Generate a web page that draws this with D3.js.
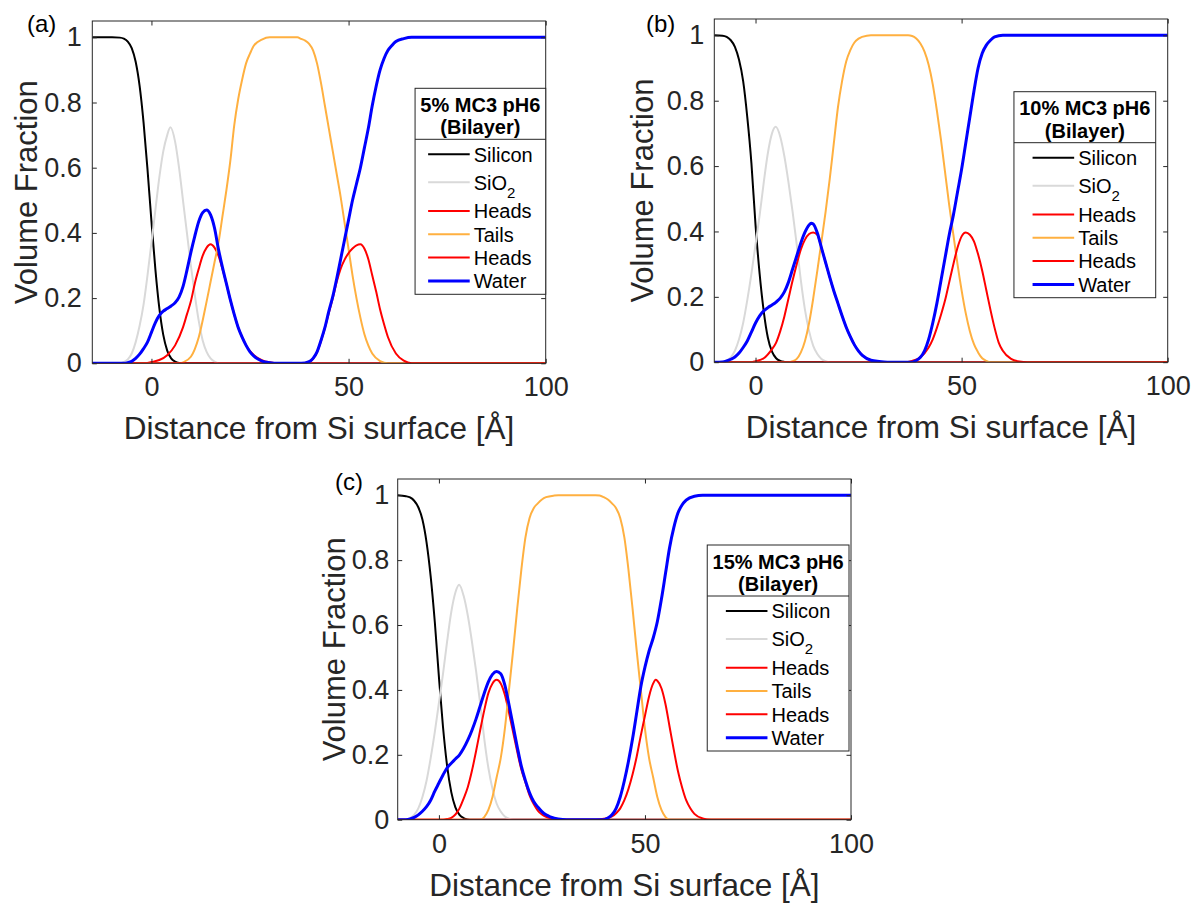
<!DOCTYPE html>
<html><head><meta charset="utf-8">
<script src="https://cdn.jsdelivr.net/npm/d3@7"></script>
<style>
body{margin:0;background:#fff}
svg{display:block}
text{font-family:"Liberation Sans",Arial,Helvetica,sans-serif}
</style>
</head><body>
<svg id="chart" width="1195" height="903"></svg>
<script>
// ---------------- DATA ----------------
const seriesNames = ["Silicon", "SiO2", "Heads", "Tails", "Heads", "Water"];
const xTicks = [0, 50, 100];
const yTicks = [0, 0.2, 0.4, 0.6, 0.8, 1];
const yTickLabels = ["0", "0.2", "0.4", "0.6", "0.8", "1"];
const panelLabels = ["(a)", "(b)", "(c)"];
const legendTitleA = ["5% MC3 pH6", "(Bilayer)"];
const legendTitleB = ["10% MC3 pH6", "(Bilayer)"];
const legendTitleC = ["15% MC3 pH6", "(Bilayer)"];
const xAxisTitle = "Distance from Si surface [Å]";
const yAxisTitle = "Volume Fraction";

// Panel (a) : 5% MC3
const siliconA = [[-15,1],[-10,1],[-8,0.999],[-7,0.996],[-6,0.987],[-5,0.967],[-4,0.925],[-3,0.851],[-2,0.739],[-1,0.595],[0,0.436],[1,0.288],[2,0.169],[3,0.087],[4,0.039],[5,0.015],[6,0.005],[7,0.001],[8,0],[100,0]];
const sio2A = [[-15,0],[-8,0],[-7,0.004],[-6,0.012],[-5,0.03],[-4,0.065],[-3,0.115],[-2,0.18],[-1,0.27],[0,0.37],[1,0.47],[2,0.57],[3,0.65],[4,0.70],[4.8,0.724],[6,0.68],[7,0.60],[8,0.50],[9,0.40],[10,0.30],[11,0.21],[12,0.13],[13,0.07],[14,0.035],[15,0.015],[16,0.005],[17,0],[100,0]];
const headsA = [[-15,0],[-2,0],[0,0.004],[2,0.01],[4,0.025],[6,0.055],[8,0.11],[9,0.15],[10,0.19],[11,0.245],[12,0.29],[13,0.33],[14,0.355],[15,0.365],[16,0.355],[17,0.33],[18,0.29],[19,0.245],[20,0.195],[21,0.15],[22,0.11],[24,0.055],[26,0.025],[28,0.01],[30,0.003],[32,0],[100,0]];
const tailsA = [[-15,0],[7,0],[8,0.003],[10,0.02],[12,0.08],[14,0.19],[15,0.25],[16,0.31],[17,0.37],[18,0.45],[19,0.53],[20,0.62],[21,0.73],[22,0.81],[23,0.87],[24,0.92],[25,0.95],[26,0.975],[28,0.993],[30,1],[37,1],[38,0.995],[39,0.99],[40,0.98],[41,0.96],[42,0.92],[43,0.86],[44,0.79],[45,0.72],[46,0.65],[47,0.58],[48,0.51],[49,0.43],[50,0.35],[51,0.27],[52,0.20],[53,0.14],[54,0.09],[55,0.055],[56,0.03],[58,0.007],[60,0],[100,0]];
const heads2A = [[-15,0],[38,0],[40,0.005],[41,0.014],[42,0.034],[43,0.068],[44,0.108],[45,0.155],[46,0.2],[47,0.25],[48,0.29],[49,0.318],[50,0.338],[51,0.352],[52,0.362],[53,0.365],[54,0.352],[55,0.32],[56,0.27],[57,0.22],[58,0.165],[59,0.12],[60,0.08],[62,0.03],[64,0.008],[66,0],[100,0]];
const waterA = [[-15,0],[-7,0],[-6,0.002],[-5,0.006],[-4,0.015],[-3,0.028],[-2,0.045],[-1,0.065],[0,0.095],[1,0.125],[2,0.147],[3,0.16],[4,0.168],[5,0.176],[6,0.186],[7,0.203],[8,0.235],[9,0.285],[10,0.34],[11,0.39],[12,0.435],[13,0.462],[14,0.47],[15,0.455],[16,0.415],[17,0.35],[18,0.295],[19,0.245],[20,0.195],[21,0.15],[22,0.11],[23,0.08],[24,0.055],[25,0.035],[26,0.022],[27,0.013],[28,0.007],[30,0.002],[32,0],[38,0],[40,0.005],[41,0.015],[42,0.035],[43,0.07],[44,0.11],[45,0.16],[46,0.205],[47,0.26],[48,0.32],[49,0.38],[50,0.44],[51,0.50],[52,0.55],[53,0.60],[54,0.66],[55,0.72],[56,0.79],[57,0.85],[58,0.9],[59,0.935],[60,0.96],[61,0.975],[62,0.987],[64,0.996],[66,1],[100,1]];

// Panel (b) : 10% MC3
const siliconB = [[-10,1],[-8,0.999],[-7,0.995],[-6,0.985],[-5,0.965],[-4,0.925],[-3,0.86],[-2,0.75],[-1,0.61],[0,0.42],[1,0.27],[2,0.155],[3,0.075],[4,0.032],[5,0.012],[6,0.004],[7,0.001],[8,0],[100,0]];
const sio2B = [[-10,0],[-8,0],[-7,0.005],[-6,0.015],[-5,0.035],[-4,0.07],[-3,0.12],[-2,0.19],[-1,0.27],[0,0.36],[1,0.45],[2,0.55],[3,0.64],[4,0.70],[4.9,0.72],[6,0.69],[7,0.63],[8,0.55],[9,0.46],[10,0.36],[11,0.25],[12,0.16],[13,0.095],[14,0.05],[15,0.025],[16,0.01],[17,0.003],[18,0],[100,0]];
const headsB = [[-10,0],[-1,0],[0,0.003],[2,0.012],[4,0.04],[5,0.06],[6,0.095],[7,0.14],[8,0.195],[9,0.25],[10,0.30],[11,0.345],[12,0.375],[13,0.392],[14,0.397],[15,0.39],[16,0.35],[17,0.305],[18,0.26],[19,0.218],[20,0.18],[21,0.142],[22,0.107],[23,0.078],[24,0.053],[25,0.034],[26,0.02],[28,0.006],[30,0.001],[32,0],[100,0]];
const tailsB = [[-10,0],[8,0],[9,0.003],[10,0.01],[11,0.03],[12,0.065],[13,0.12],[14,0.195],[15,0.28],[16,0.37],[17,0.46],[18,0.56],[19,0.67],[20,0.78],[21,0.86],[22,0.92],[23,0.955],[24,0.978],[25,0.99],[27,0.999],[28,1],[37,1],[38,0.998],[39,0.99],[40,0.975],[41,0.95],[42,0.91],[43,0.85],[44,0.77],[45,0.68],[46,0.58],[47,0.48],[48,0.39],[49,0.30],[50,0.22],[51,0.15],[52,0.095],[53,0.055],[54,0.03],[55,0.012],[56,0.004],[57,0],[100,0]];
const heads2B = [[-10,0],[36,0],[38,0.004],[40,0.015],[42,0.045],[43,0.07],[44,0.105],[45,0.145],[46,0.19],[47,0.245],[48,0.30],[49,0.35],[50,0.385],[51,0.397],[52,0.39],[53,0.37],[54,0.33],[55,0.28],[56,0.22],[57,0.16],[58,0.105],[59,0.06],[60,0.035],[62,0.01],[64,0.002],[66,0],[100,0]];
const waterB = [[-10,0],[-8,0.001],[-7,0.004],[-6,0.009],[-5,0.016],[-4,0.028],[-3,0.045],[-2,0.065],[-1,0.092],[0,0.12],[1,0.142],[2,0.157],[3,0.167],[4,0.175],[5,0.184],[6,0.196],[7,0.215],[8,0.245],[9,0.285],[10,0.325],[11,0.365],[12,0.398],[13,0.42],[13.5,0.425],[14,0.423],[15,0.395],[16,0.35],[17,0.305],[18,0.26],[19,0.218],[20,0.18],[21,0.142],[22,0.107],[23,0.078],[24,0.053],[25,0.034],[26,0.02],[28,0.006],[30,0.002],[32,0],[38,0],[39,0.005],[40,0.015],[41,0.035],[42,0.07],[43,0.12],[44,0.18],[45,0.25],[46,0.32],[47,0.39],[48,0.45],[49,0.52],[50,0.59],[51,0.67],[52,0.75],[53,0.83],[54,0.9],[55,0.945],[56,0.97],[57,0.985],[58,0.995],[60,1],[100,1]];

// Panel (c) : 15% MC3
const siliconC = [[-10,1],[-8,0.997],[-7,0.993],[-6,0.983],[-5,0.963],[-4,0.925],[-3,0.855],[-2,0.75],[-1,0.61],[0,0.44],[1,0.285],[2,0.165],[3,0.085],[4,0.038],[5,0.015],[6,0.005],[7,0.001],[8,0],[100,0]];
const sio2C = [[-10,0],[-8,0],[-7,0.005],[-6,0.015],[-5,0.035],[-4,0.07],[-3,0.12],[-2,0.19],[-1,0.27],[0,0.36],[1,0.45],[2,0.55],[3,0.64],[4,0.70],[4.9,0.724],[6,0.69],[7,0.63],[8,0.55],[9,0.46],[10,0.36],[11,0.25],[12,0.16],[13,0.095],[14,0.05],[15,0.025],[16,0.01],[17,0.003],[18,0],[100,0]];
const headsC = [[-10,0],[1,0],[2,0.002],[3,0.006],[4,0.016],[5,0.035],[6,0.065],[7,0.10],[8,0.15],[9,0.21],[10,0.275],[11,0.337],[12,0.39],[13,0.42],[14,0.431],[15,0.42],[16,0.385],[17,0.33],[18,0.27],[19,0.21],[20,0.155],[21,0.115],[22,0.075],[23,0.048],[24,0.028],[25,0.016],[26,0.009],[28,0.003],[30,0],[100,0]];
const tailsC = [[-10,0],[10,0],[11,0.008],[12,0.03],[13,0.07],[14,0.13],[15,0.19],[16,0.28],[17,0.40],[18,0.52],[19,0.65],[20,0.77],[21,0.87],[22,0.93],[23,0.96],[24,0.975],[25,0.987],[26,0.994],[28,0.999],[29,1],[38,1],[39,0.999],[40,0.994],[41,0.987],[42,0.975],[43,0.96],[44,0.93],[45,0.87],[46,0.77],[47,0.65],[48,0.52],[49,0.40],[50,0.28],[51,0.19],[52,0.13],[53,0.07],[54,0.03],[55,0.008],[56,0],[100,0]];
const heads2C = [[-10,0],[38,0],[40,0.003],[42,0.01],[43,0.02],[44,0.035],[45,0.06],[46,0.095],[47,0.14],[48,0.195],[49,0.26],[50,0.32],[51,0.38],[52,0.42],[52.6,0.431],[53,0.428],[54,0.405],[55,0.355],[56,0.285],[57,0.215],[58,0.15],[59,0.1],[60,0.06],[61,0.035],[62,0.018],[64,0.004],[66,0],[100,0]];
const waterC = [[-10,0],[-8,0],[-7,0.002],[-6,0.007],[-5,0.015],[-4,0.026],[-3,0.04],[-2,0.06],[-1,0.088],[0,0.113],[1,0.138],[2,0.16],[3,0.174],[4,0.187],[5,0.2],[6,0.22],[7,0.245],[8,0.275],[9,0.31],[10,0.35],[11,0.39],[12,0.425],[13,0.448],[14,0.457],[15,0.45],[16,0.415],[17,0.355],[18,0.29],[19,0.225],[20,0.165],[21,0.12],[22,0.083],[23,0.056],[24,0.039],[25,0.025],[26,0.015],[27,0.009],[28,0.005],[30,0.001],[32,0],[40,0],[41,0.005],[42,0.015],[43,0.035],[44,0.07],[45,0.12],[46,0.18],[47,0.25],[48,0.33],[49,0.41],[50,0.47],[51,0.52],[52,0.56],[53,0.61],[54,0.68],[55,0.76],[56,0.84],[57,0.9],[58,0.945],[59,0.97],[60,0.985],[62,0.997],[64,1],[100,1]];

// ---------------- STYLE / LAYOUT ----------------
const seriesColors = ["#000000", "#d9d9d9", "#ff0000", "#ffb040", "#ff0000", "#0000ff"];
const seriesWidths = [2, 2, 2, 2, 2, 3];
const axisColor = "#262626";
const FONT = '"Liberation Sans",Arial,Helvetica,sans-serif';

const panels = [
  { box:{l:92.3, r:545.7, t:21, b:363.3}, xDomain:[-15,100], lab:{x:27, y:32}, ylabX:37, tickGap:10.5,
    leg:{right:545.7, top:88.3}, title:legendTitleA, series:[siliconA, sio2A, headsA, tailsA, heads2A, waterA] },
  { box:{l:714.3, r:1167.7, t:19, b:362.2}, xDomain:[-10,100], lab:{x:646, y:32}, ylabX:652.7, tickGap:10,
    leg:{right:1155.7, top:91.7}, title:legendTitleB, series:[siliconB, sio2B, headsB, tailsB, heads2B, waterB] },
  { box:{l:397.7, r:851, t:479, b:819.7}, xDomain:[-10,100], lab:{x:335, y:489.5}, ylabX:345, tickGap:8.5,
    leg:{right:849, top:545}, title:legendTitleC, series:[siliconC, sio2C, headsC, tailsC, heads2C, waterC] }
];

const svg = d3.select("#chart");
svg.append("rect").attr("width",1195).attr("height",903).attr("fill","#fff");

panels.forEach((p, pi) => {
  const B = p.box;
  const x = d3.scaleLinear().domain(p.xDomain).range([B.l, B.r]);
  const y = d3.scaleLinear().domain([0, 1.05]).range([B.b, B.t]);
  const g = svg.append("g");

  const clipId = "clip" + pi;
  g.append("clipPath").attr("id", clipId).append("rect")
    .attr("x", B.l).attr("y", B.t).attr("width", B.r - B.l).attr("height", B.b - B.t);

  const line = d3.line().x(d => x(d[0])).y(d => y(d[1])).curve(d3.curveMonotoneX);
  const cg = g.append("g").attr("clip-path", `url(#${clipId})`);
  p.series.forEach((s, si) => {
    cg.append("path").datum(s).attr("d", line)
      .attr("fill", "none").attr("stroke", seriesColors[si])
      .attr("stroke-width", seriesWidths[si]).attr("stroke-linejoin", "round");
  });

  const styleAxis = sel => {
    sel.attr("color", axisColor).attr("font-size", 27).attr("font-family", FONT);
    sel.select(".domain").remove();
    sel.selectAll(".tick line").attr("stroke-width", 1);
    sel.selectAll(".tick text").attr("fill", axisColor);
  };
  g.append("g").attr("transform", `translate(0,${B.b})`)
    .call(d3.axisBottom(x).tickValues(xTicks).tickFormat(d3.format("d")).tickSizeInner(-4.5).tickSizeOuter(0).tickPadding(14))
    .call(styleAxis);
  g.append("g").attr("transform", `translate(0,${B.t})`)
    .call(d3.axisTop(x).tickValues(xTicks).tickFormat("").tickSizeInner(-4.5).tickSizeOuter(0))
    .call(styleAxis);
  g.append("g").attr("transform", `translate(${B.l},0)`)
    .call(d3.axisLeft(y).tickValues(yTicks).tickFormat((d, i) => yTickLabels[i]).tickSizeInner(-4.5).tickSizeOuter(0).tickPadding(p.tickGap))
    .call(styleAxis);
  g.append("g").attr("transform", `translate(${B.r},0)`)
    .call(d3.axisRight(y).tickValues(yTicks).tickFormat("").tickSizeInner(-4.5).tickSizeOuter(0))
    .call(styleAxis);

  g.append("rect").attr("x", B.l).attr("y", B.t).attr("width", B.r - B.l).attr("height", B.b - B.t)
    .attr("fill", "none").attr("stroke", axisColor).attr("stroke-width", 1);

  g.append("text").attr("x", (B.l + B.r) / 2).attr("y", B.b + 76)
    .attr("text-anchor", "middle").attr("font-size", 31.5).attr("fill", axisColor).text(xAxisTitle);
  g.append("text").attr("transform", `translate(${p.ylabX},${(B.t + B.b) / 2}) rotate(-90)`)
    .attr("text-anchor", "middle").attr("font-size", 31).attr("fill", axisColor).text(yAxisTitle);

  g.append("text").attr("x", p.lab.x).attr("y", p.lab.y).attr("font-size", 24).attr("fill", "#000").text(panelLabels[pi]);

  // legend
  const L = g.append("g");
  const T = p.leg.top;
  const tmp = p.title.map(t => L.append("text").attr("font-size", 20).attr("font-weight", "bold").text(t));
  const titleW = d3.max(tmp, t => t.node().getComputedTextLength());
  tmp.forEach(t => t.remove());
  const W = titleW + 10.6;
  const left = p.leg.right - W;
  const cx = left + W / 2;
  L.append("rect").attr("x", left).attr("y", T).attr("width", W).attr("height", 206)
    .attr("fill", "#fff").attr("stroke", axisColor).attr("stroke-width", 1);
  L.append("line").attr("x1", left).attr("x2", left + W).attr("y1", T + 51).attr("y2", T + 51)
    .attr("stroke", axisColor).attr("stroke-width", 1);
  p.title.forEach((t, i) => {
    L.append("text").attr("x", cx).attr("y", T + 23.5 + i * 22.5).attr("text-anchor", "middle")
      .attr("font-size", 20).attr("font-weight", "bold").attr("fill", "#000").text(t);
  });
  const rowY = [66, 94, 122.7, 146, 169.3, 192.7];
  const texts = [];
  seriesNames.forEach((n, i) => {
    const t = L.append("text").attr("font-size", 20).attr("fill", "#000").attr("y", T + rowY[i] + 7.3);
    if (n === "SiO2") {
      t.append("tspan").text("SiO");
      t.append("tspan").attr("font-size", 15).attr("dy", 8).text("2");
    } else t.text(n);
    texts.push(t);
  });
  const maxTW = d3.max(texts, t => t.node().getComputedTextLength());
  const blockW = 45.6 + maxTW;
  const x0 = cx - blockW / 2;
  seriesNames.forEach((n, i) => {
    L.append("line").attr("x1", x0).attr("x2", x0 + 41.6)
      .attr("y1", T + rowY[i]).attr("y2", T + rowY[i])
      .attr("stroke", seriesColors[i]).attr("stroke-width", seriesWidths[i]);
    texts[i].attr("x", x0 + 45.6);
  });
});
</script>
</body></html>
